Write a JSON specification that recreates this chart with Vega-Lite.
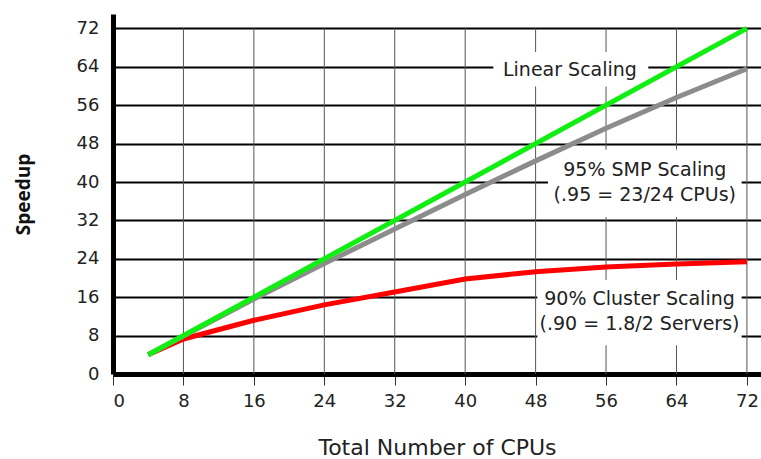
{
  "$schema": "https://vega.github.io/schema/vega-lite/v6.json",
  "autosize": "none",
  "width": 648,
  "height": 360,
  "padding": {"left": 113, "top": 14, "right": 0, "bottom": 85},
  "background": "white",
  "config": {
    "view": {"stroke": null},
    "font": "DejaVu Sans",
    "axisX": {
      "grid": false,
      "domainColor": "black", "domainWidth": 5,
      "tickColor": "#333333", "tickWidth": 1, "tickSize": 11,
      "labelFontSize": 18, "labelColor": "#222222", "labelPadding": 7,
      "labelFont": "DejaVu Sans", "labelOverlap": false,
      "titleFontSize": 22, "titleFontWeight": "normal", "titleColor": "#222222",
      "titleFont": "DejaVu Sans", "titlePadding": 27
    },
    "axisY": {
      "grid": true, "gridColor": "black", "gridWidth": 2, "gridOpacity": 1,
      "ticks": false,
      "domainColor": "black", "domainWidth": 5,
      "labelFontSize": 18, "labelColor": "#222222", "labelPadding": 14,
      "labelFont": "DejaVu Sans", "labelOverlap": false,
      "titleFontSize": 19, "titleFontWeight": "bold", "titleColor": "#111111",
      "titleFont": "Open Sans", "titlePadding": 43
    }
  },
  "datasets": {
    "curves": [
      {"cpus": 4, "speedup": 4, "series": "Linear"},
      {"cpus": 72, "speedup": 72, "series": "Linear"},
      {"cpus": 4, "speedup": 4, "series": "SMP"},
      {"cpus": 8, "speedup": 7.9, "series": "SMP"},
      {"cpus": 16, "speedup": 15.6, "series": "SMP"},
      {"cpus": 24, "speedup": 23, "series": "SMP"},
      {"cpus": 32, "speedup": 30.2, "series": "SMP"},
      {"cpus": 40, "speedup": 37.4, "series": "SMP"},
      {"cpus": 48, "speedup": 44.4, "series": "SMP"},
      {"cpus": 56, "speedup": 51.2, "series": "SMP"},
      {"cpus": 64, "speedup": 57.6, "series": "SMP"},
      {"cpus": 72, "speedup": 63.6, "series": "SMP"},
      {"cpus": 4, "speedup": 4, "series": "Cluster"},
      {"cpus": 8, "speedup": 7.3, "series": "Cluster"},
      {"cpus": 16, "speedup": 11.2, "series": "Cluster"},
      {"cpus": 24, "speedup": 14.4, "series": "Cluster"},
      {"cpus": 32, "speedup": 17.1, "series": "Cluster"},
      {"cpus": 40, "speedup": 19.8, "series": "Cluster"},
      {"cpus": 48, "speedup": 21.3, "series": "Cluster"},
      {"cpus": 56, "speedup": 22.3, "series": "Cluster"},
      {"cpus": 64, "speedup": 22.9, "series": "Cluster"},
      {"cpus": 72, "speedup": 23.4, "series": "Cluster"}
    ],
    "labels": [
      {"label": "Linear Scaling", "x": 51.9, "y": 63.4, "bx1": 43.2, "bx2": 60.8, "by1": 59.9, "by2": 67.1},
      {"label": "95% SMP Scaling\n(.95 = 23/24 CPUs)", "x": 60.4, "y": 42.5, "bx1": 49.4, "bx2": 71.4, "by1": 32.7, "by2": 46.7},
      {"label": "90% Cluster Scaling\n(.90 = 1.8/2 Servers)", "x": 59.8, "y": 15.7, "bx1": 48.2, "bx2": 71.4, "by1": 6.0, "by2": 19.6}
    ]
  },
  "encoding": {
    "x": {
      "field": "cpus", "type": "quantitative",
      "scale": {"domain": [0, 73.6], "nice": false, "zero": false},
      "axis": {"values": [0, 8, 16, 24, 32, 40, 48, 56, 64, 72], "title": "Total Number of CPUs"}
    },
    "y": {
      "field": "speedup", "type": "quantitative",
      "scale": {"domain": [0, 75], "nice": false},
      "axis": {"values": [0, 8, 16, 24, 32, 40, 48, 56, 64, 72], "title": "Speedup"}
    }
  },
  "layer": [
    {
      "data": {"name": "curves"},
      "transform": [{"filter": "datum.series == 'SMP' && datum.cpus % 8 == 0"}],
      "mark": {"type": "rule", "color": "#555555", "strokeWidth": 1},
      "encoding": {
        "y": {
          "datum": 0, "type": "quantitative",
          "scale": {"domain": [0, 75], "nice": false},
          "axis": {"values": [0, 8, 16, 24, 32, 40, 48, 56, 64, 72], "title": "Speedup"}
        },
        "y2": {"datum": 72}
      }
    },
    {
      "data": {"name": "labels"},
      "mark": {"type": "rect", "color": "white"},
      "encoding": {
        "x": {"field": "bx1", "type": "quantitative"},
        "x2": {"field": "bx2"},
        "y": {"field": "by1", "type": "quantitative"},
        "y2": {"field": "by2"}
      }
    },
    {
      "data": {"name": "curves"},
      "transform": [{"filter": "datum.series == 'Cluster'"}],
      "mark": {"type": "line", "color": "#ff0000", "strokeWidth": 5}
    },
    {
      "data": {"name": "curves"},
      "transform": [{"filter": "datum.series == 'SMP'"}],
      "mark": {"type": "line", "color": "#8c8c8c", "strokeWidth": 5}
    },
    {
      "data": {"name": "curves"},
      "transform": [{"filter": "datum.series == 'Linear'"}],
      "mark": {"type": "line", "color": "#11ee11", "strokeWidth": 5}
    },
    {
      "data": {"name": "labels"},
      "mark": {"type": "text", "fontSize": 19, "font": "DejaVu Sans", "color": "#222222", "align": "center", "baseline": "middle", "lineBreak": "\n", "lineHeight": 25},
      "encoding": {
        "x": {"field": "x", "type": "quantitative"},
        "y": {"field": "y", "type": "quantitative"},
        "text": {"field": "label"}
      }
    }
  ]
}
